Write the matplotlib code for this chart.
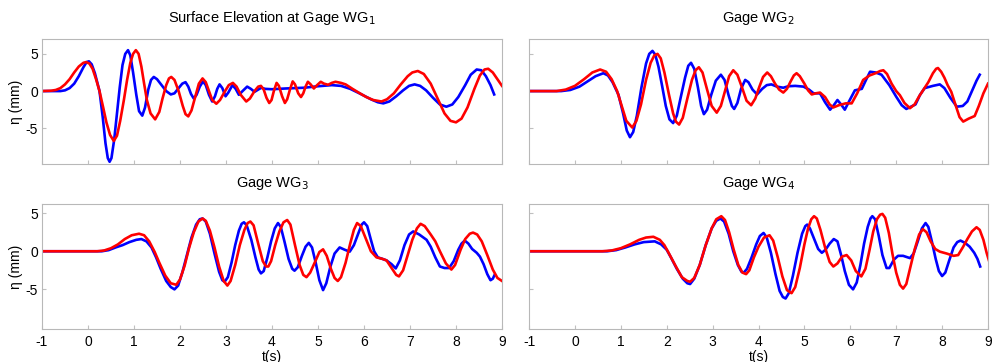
import matplotlib.pyplot as plt

# --- dati (t in s, eta in mm) ---
titles = ["Surface Elevation at Gage WG$_1$", "Gage WG$_2$", "Gage WG$_3$", "Gage WG$_4$"]
xticks = list(range(-1, 10))
yticks = [-5, 0, 5]

# WG1
t_b1 = [-1, -0.6, -0.5, -0.4, -0.3, -0.2, -0.1, -0.03, 0.02, 0.08, 0.15, 0.25, 0.32, 0.38, 0.43, 0.47,
        0.51, 0.57, 0.63, 0.69, 0.75, 0.81, 0.87, 0.92, 0.98, 1.05, 1.11, 1.18, 1.24, 1.31, 1.37, 1.43,
        1.5, 1.6, 1.7, 1.8, 1.88, 1.97, 2.05, 2.12, 2.18, 2.24, 2.30, 2.36, 2.43, 2.50, 2.56, 2.63,
        2.70, 2.76, 2.81, 2.86, 2.92, 2.99, 3.05, 3.14, 3.21, 3.28, 3.36, 3.46, 3.54, 3.62, 3.7, 3.77,
        3.85, 4.0, 4.3, 4.7, 5.0, 5.3, 5.5, 5.7, 5.9, 6.15, 6.3, 6.42, 6.55, 6.7, 6.85, 6.98, 7.1,
        7.22, 7.35, 7.5, 7.65, 7.79, 7.92, 8.05, 8.2, 8.32, 8.45, 8.55, 8.65, 8.75, 8.83]
e_b1 = [0, 0, 0.1, 0.4, 1.0, 2.0, 3.2, 3.9, 4.0, 3.6, 2.4, 0, -3.5, -7.0, -9.0, -9.5,
        -9.0, -6.5, -3.0, 0.5, 3.5, 5.0, 5.5, 4.8, 2.5, -0.5, -2.7, -3.3, -2.2, 0.2, 1.5, 1.9,
        1.6, 0.8, 0.0, -0.45, -0.3, 0.4, 1.0, 1.2, 0.6, -0.4, -1.0, -0.5, 0.6, 1.3, 0.8, -0.5,
        -1.4, -0.7, 0.3, 0.9, 0.4, -0.7, -0.2, 0.8, 0.3, -0.5, 0.0, 0.6, 0.3, -0.1, 0.2, 0.45,
        0.3, 0.25, 0.35, 0.45, 0.65, 0.8, 0.7, 0.3, -0.3, -1.1, -1.5, -1.65, -1.4, -0.7, 0.1, 0.7, 0.9,
        0.7, 0.1, -0.9, -1.8, -2.1, -1.8, -0.8, 0.8, 2.2, 2.9, 2.8, 2.0, 0.8, -0.45]
t_r1 = [-1, -0.8, -0.7, -0.6, -0.5, -0.4, -0.3, -0.2, -0.1, -0.04, 0.03, 0.1, 0.18, 0.25, 0.33, 0.4,
        0.48, 0.56, 0.63, 0.7, 0.78, 0.85, 0.92, 0.98, 1.04, 1.1, 1.16, 1.22, 1.28, 1.36, 1.46, 1.55,
        1.62, 1.7, 1.76, 1.81, 1.88, 1.97, 2.06, 2.12, 2.18, 2.25, 2.33, 2.41, 2.49, 2.56, 2.63, 2.7,
        2.79, 2.87, 2.97, 3.06, 3.15, 3.23, 3.32, 3.44, 3.52, 3.62, 3.7, 3.76, 3.82, 3.88, 3.94, 3.99,
        4.04, 4.10, 4.15, 4.22, 4.28, 4.33, 4.39, 4.45, 4.5, 4.57, 4.63, 4.68, 4.73, 4.78, 4.84, 4.91,
        4.98, 5.06, 5.13, 5.22, 5.3, 5.38, 5.5, 5.6, 5.75, 5.91, 6.05, 6.2, 6.38, 6.5, 6.65, 6.8,
        6.95, 7.05, 7.17, 7.3, 7.45, 7.6, 7.75, 7.88, 8.0, 8.12, 8.25, 8.4, 8.52, 8.62, 8.7, 8.8,
        8.9, 9.0]
e_r1 = [0, 0.05, 0.15, 0.4, 0.9, 1.6, 2.5, 3.3, 3.8, 3.9, 3.7, 3.0, 1.5, 0, -2.2, -4.2,
        -5.9, -6.7, -6.0, -4.0, -1.2, 1.5, 3.8, 5.0, 5.5, 5.0, 3.3, 1.0, -1.2, -3.0, -3.8, -2.8,
        -1.0, 0.8, 1.7, 1.9, 1.5, 0.0, -2.0, -3.1, -3.4, -2.6, -0.8, 1.0, 1.7, 1.2, 0.0, -1.2,
        -1.7, -1.2, -0.1, 0.8, 1.1, 0.6, -0.5, -1.4, -1.0, 0.0, 0.6, 0.7, 0.2, -0.9, -1.6, -1.2,
        0.0, 1.1, 0.7, -0.7, -1.6, -1.1, 0.2, 1.3, 0.9, -0.3, -0.8, -0.3, 0.6, 1.25, 0.9, 0.35,
        0.8, 1.25, 1.0, 0.85, 1.1, 1.25, 1.1, 0.9, 0.3, -0.3, -0.8, -1.2, -1.4, -1.1, -0.3, 0.9,
        2.0, 2.5, 2.7, 2.3, 1.0, -1.0, -3.0, -4.0, -4.2, -3.7, -2.2, 0.3, 2.1, 2.9, 3.0, 2.5,
        1.6, 0.7]

# WG2
t_b2 = [-1, -0.3, -0.1, 0.1, 0.3, 0.45, 0.62, 0.72, 0.82, 0.95, 1.05, 1.13, 1.20, 1.27, 1.35, 1.45,
        1.55, 1.62, 1.69, 1.75, 1.82, 1.9, 1.98, 2.06, 2.14, 2.22, 2.3, 2.4, 2.47, 2.53, 2.6, 2.68,
        2.75, 2.81, 2.88, 2.97, 3.07, 3.18, 3.26, 3.35, 3.42, 3.47, 3.54, 3.62, 3.71, 3.78, 3.87, 3.97,
        4.08, 4.18, 4.28, 4.4, 4.54, 4.65, 4.8, 4.98, 5.1, 5.2, 5.34, 5.45, 5.56, 5.64, 5.72, 5.8,
        5.88, 5.98, 6.1, 6.25, 6.35, 6.43, 6.55, 6.68, 6.85, 7.0, 7.12, 7.22, 7.32, 7.42, 7.52, 7.62,
        7.8, 7.95, 8.05, 8.18, 8.32, 8.45, 8.55, 8.65, 8.75, 8.82]
e_b2 = [0, 0, 0.15, 0.6, 1.4, 2.0, 2.4, 2.1, 1.2, -0.5, -3.0, -5.3, -6.2, -5.5, -3.3, 0.5,
        3.7, 5.0, 5.4, 4.9, 3.3, 0.7, -2.0, -3.8, -4.3, -3.3, -1.0, 1.8, 3.4, 3.8, 3.0, 0.5,
        -2.0, -3.1, -2.5, -0.5, 1.4, 2.2, 1.5, -0.6, -2.0, -2.4, -1.6, 0.3, 1.5, 1.2, 0.2, -0.45,
        0.3, 0.8, 0.9, 0.6, 0.45, 0.65, 0.7, 0.6, 0.2, -0.3, -0.3, -1.5, -2.5, -1.9, -1.2, -1.8,
        -2.5, -1.3, 0.1, 0.3, 1.6, 2.6, 2.5, 2.2, 0.8, -0.75, -1.9, -2.4, -2.1, -1.8, -0.5, 0.4,
        0.7, 0.9, 0.4, -0.9, -2.1, -2.0, -1.4, 0.0, 1.4, 2.2]
t_r2 = [-1, -0.4, -0.2, 0.0, 0.2, 0.38, 0.55, 0.68, 0.8, 0.92, 1.02, 1.12, 1.25, 1.34, 1.44, 1.55,
        1.65, 1.73, 1.80, 1.87, 1.95, 2.05, 2.14, 2.2, 2.27, 2.35, 2.45, 2.55, 2.63, 2.70, 2.78, 2.88,
        2.98, 3.09, 3.18, 3.27, 3.36, 3.45, 3.54, 3.64, 3.74, 3.84, 3.93, 4.02, 4.1, 4.19, 4.27, 4.36,
        4.45, 4.54, 4.62, 4.7, 4.77, 4.83, 4.9, 5.0, 5.08, 5.16, 5.25, 5.34, 5.45, 5.55, 5.63, 5.75,
        5.9, 6.03, 6.15, 6.28, 6.42, 6.55, 6.65, 6.72, 6.8, 6.9, 7.0, 7.08, 7.18, 7.30, 7.4, 7.5,
        7.59, 7.7, 7.8, 7.87, 7.91, 7.98, 8.05, 8.12, 8.2, 8.3, 8.38, 8.46, 8.58, 8.71, 8.8, 8.9,
        9.0]
e_r2 = [0, 0, 0.2, 0.7, 1.6, 2.5, 2.9, 2.6, 1.6, 0.0, -2.0, -4.0, -4.9, -4.0, -1.8, 1.5,
        3.8, 4.8, 5.0, 4.4, 2.5, -0.5, -3.0, -4.1, -4.5, -3.6, -1.0, 1.5, 2.8, 3.2, 2.5, 0.2,
        -2.0, -2.9, -2.0, 0.0, 2.0, 2.8, 2.2, 0.5, -1.3, -1.9, -1.0, 0.6, 1.9, 2.5, 2.0, 1.0,
        0.2, -0.2, 0.3, 1.3, 2.1, 2.4, 2.0, 1.0, 0.1, -0.45, -0.3, -0.2, -0.8, -1.8, -2.2, -1.9,
        -1.65, -1.65, -0.3, 1.5, 2.1, 2.4, 2.7, 2.8, 2.3, 1.0, 0.0, -0.55, -1.6, -2.3, -1.8, -0.7,
        0.15, 1.2, 2.4, 3.0, 3.1, 2.6, 1.8, 0.8, -0.1, -2.0, -3.5, -4.1, -3.7, -3.35, -2.0, -0.3,
        1.0]

# WG3
t_b3 = [-1, 0.3, 0.45, 0.6, 0.75, 0.9, 1.05, 1.16, 1.27, 1.38, 1.48, 1.58, 1.7, 1.8, 1.88, 1.96,
        2.05, 2.15, 2.25, 2.35, 2.43, 2.49, 2.56, 2.65, 2.75, 2.85, 2.92, 2.97, 3.04, 3.12, 3.2, 3.28,
        3.34, 3.39, 3.45, 3.55, 3.64, 3.71, 3.76, 3.82, 3.9, 3.98, 4.06, 4.13, 4.19, 4.27, 4.36, 4.44,
        4.49, 4.56, 4.65, 4.73, 4.80, 4.87, 4.95, 5.03, 5.11, 5.18, 5.27, 5.36, 5.47, 5.58, 5.69, 5.78,
        5.88, 5.95, 6.0, 6.07, 6.15, 6.22, 6.3, 6.4, 6.49, 6.6, 6.69, 6.78, 6.88, 6.98, 7.07, 7.2,
        7.36, 7.45, 7.55, 7.65, 7.75, 7.85, 7.95, 8.05, 8.12, 8.19, 8.27, 8.35, 8.45, 8.52, 8.6, 8.68,
        8.75, 8.8, 8.84]
e_b3 = [0, 0, 0.15, 0.5, 0.8, 1.2, 1.5, 1.6, 1.3, 0.5, -0.8, -2.3, -3.9, -4.7, -5.0, -4.5,
        -2.8, -0.5, 1.8, 3.5, 4.2, 4.3, 3.9, 2.3, -0.3, -2.7, -3.8, -4.0, -3.4, -1.5, 0.8, 2.7,
        3.6, 3.8, 3.4, 1.5, -0.8, -2.4, -2.9, -2.6, -0.8, 1.3, 3.0, 3.7, 3.2, 1.3, -1.0, -2.3,
        -2.55, -2.1, -0.6, 0.6, 1.1, 0.5, -1.5, -3.8, -5.1, -4.2, -2.0, -0.3, 0.5, 0.2, -0.05, 0.8,
        2.4, 3.5, 3.8, 3.3, 1.5, 0.0, -0.8, -1.0, -1.2, -1.7, -2.25, -1.2, 0.8, 2.2, 2.6, 2.2,
        1.5, 0.6, -0.8, -2.0, -2.2, -2.2, -1.3, 0.2, 1.0, 1.4, 1.0, 0.3, -0.2, -0.7, -1.7, -3.0,
        -3.8, -3.6, -3.1]
t_r3 = [-1, 0.2, 0.35, 0.5, 0.65, 0.8, 0.95, 1.11, 1.22, 1.33, 1.45, 1.55, 1.68, 1.8, 1.92, 2.0,
        2.1, 2.2, 2.3, 2.4, 2.49, 2.56, 2.65, 2.75, 2.85, 2.95, 3.03, 3.1, 3.2, 3.3, 3.4, 3.47,
        3.53, 3.6, 3.7, 3.8, 3.87, 3.92, 3.98, 4.07, 4.16, 4.25, 4.33, 4.4, 4.5, 4.6, 4.68, 4.75,
        4.83, 4.95, 5.03, 5.11, 5.19, 5.28, 5.36, 5.43, 5.5, 5.6, 5.7, 5.78, 5.85, 5.93, 6.03, 6.15,
        6.27, 6.4, 6.49, 6.6, 6.7, 6.76, 6.85, 6.95, 7.05, 7.15, 7.23, 7.32, 7.45, 7.55, 7.65, 7.78,
        7.9, 7.98, 8.1, 8.2, 8.3, 8.37, 8.46, 8.56, 8.68, 8.8, 8.9, 9.0]
e_r3 = [0, 0, 0.1, 0.4, 0.9, 1.6, 2.1, 2.3, 2.1, 1.3, -0.1, -1.5, -3.2, -4.2, -4.4, -3.7,
        -1.9, 0.5, 2.5, 3.9, 4.3, 4.0, 2.7, 0.5, -2.0, -3.9, -4.5, -3.9, -1.8, 0.8, 2.8, 3.7,
        3.9, 3.4, 1.0, -1.3, -2.0, -2.0, -1.3, 0.8, 2.6, 3.8, 4.1, 3.5, 0.8, -1.8, -3.1, -3.4,
        -2.8, -1.2, -0.1, 0.25, -0.6, -2.3, -3.5, -3.9, -3.4, -1.5, 1.0, 2.8, 3.7, 3.3, 1.8, 0.0,
        -0.8, -1.0, -1.2, -2.2, -3.1, -3.3, -2.5, -0.5, 1.5, 3.0, 3.6, 3.3, 2.2, 1.3, 0.0, -1.6,
        -2.4, -1.8, 0.2, 1.6, 2.3, 2.45, 2.2, 1.3, -0.5, -2.4, -3.5, -3.9]

# WG4
t_b4 = [-1, 0.7, 0.9, 1.1, 1.3, 1.5, 1.74, 1.88, 2.0, 2.1, 2.22, 2.35, 2.45, 2.51, 2.6, 2.72,
        2.85, 2.98, 3.08, 3.17, 3.25, 3.35, 3.45, 3.55, 3.63, 3.68, 3.75, 3.85, 3.95, 4.03, 4.11, 4.18,
        4.27, 4.37, 4.46, 4.53, 4.59, 4.66, 4.75, 4.85, 4.95, 5.02, 5.06, 5.12, 5.2, 5.3, 5.38, 5.46,
        5.55, 5.64, 5.72, 5.8, 5.88, 5.97, 6.06, 6.14, 6.22, 6.3, 6.38, 6.44, 6.48, 6.54, 6.62, 6.7,
        6.79, 6.85, 6.95, 7.04, 7.15, 7.3, 7.38, 7.47, 7.56, 7.64, 7.7, 7.78, 7.86, 7.93, 8.0, 8.07,
        8.15, 8.25, 8.33, 8.4, 8.5, 8.6, 8.7, 8.77, 8.83]
e_b4 = [0, 0, 0.15, 0.5, 0.9, 1.2, 1.3, 0.9, 0.2, -0.9, -2.3, -3.6, -4.2, -4.3, -3.6, -1.8,
        0.8, 3.0, 4.0, 4.3, 3.9, 2.3, 0.0, -1.8, -2.7, -2.8, -2.3, -0.8, 0.9, 2.0, 2.4, 1.8,
        -0.2, -3.0, -5.2, -6.0, -6.2, -5.5, -3.2, -0.2, 2.3, 3.3, 3.5, 3.0, 1.8, 0.3, -0.2, 0.2,
        1.0, 1.6, 1.3, -0.5, -2.6, -4.4, -5.0, -4.1, -1.8, 1.0, 3.2, 4.3, 4.6, 4.2, 2.0, -0.5,
        -2.2, -2.2, -1.1, -0.6, -0.6, -0.9, -0.3, 1.3, 3.0, 3.7, 3.2, 1.2, -1.0, -2.6, -3.25, -2.8,
        -1.3, 0.5, 1.2, 1.4, 1.1, 0.6, -0.2, -1.0, -2.0]
t_r4 = [-1, 0.6, 0.8, 1.0, 1.2, 1.4, 1.55, 1.71, 1.85, 1.95, 2.05, 2.2, 2.33, 2.45, 2.51, 2.6,
        2.72, 2.85, 2.98, 3.08, 3.19, 3.27, 3.36, 3.46, 3.56, 3.65, 3.73, 3.8, 3.9, 4.0, 4.12, 4.24,
        4.32, 4.42, 4.52, 4.62, 4.72, 4.8, 4.9, 5.0, 5.08, 5.15, 5.21, 5.27, 5.35, 5.45, 5.55, 5.63,
        5.72, 5.82, 5.92, 6.02, 6.12, 6.24, 6.33, 6.42, 6.5, 6.58, 6.65, 6.70, 6.76, 6.84, 6.92, 7.0,
        7.08, 7.15, 7.22, 7.3, 7.4, 7.5, 7.58, 7.66, 7.75, 7.85, 7.95, 8.1, 8.25, 8.35, 8.45, 8.55,
        8.65, 8.75, 8.82, 8.9, 8.97, 9.03]
e_r4 = [0, 0, 0.1, 0.4, 0.9, 1.5, 1.8, 1.9, 1.5, 0.8, -0.3, -2.0, -3.4, -3.9, -4.0, -3.5,
        -1.8, 0.8, 3.0, 4.2, 4.6, 4.1, 2.5, 0.2, -1.8, -2.8, -3.0, -2.5, -0.8, 0.6, 1.8, 2.1,
        1.4, -0.8, -3.3, -5.1, -5.5, -4.7, -2.2, 0.9, 3.0, 4.2, 4.6, 4.3, 2.8, 0.5, -1.4, -2.0,
        -1.6, -0.7, -0.5, -1.2, -2.6, -3.3, -2.3, 0.2, 2.6, 4.2, 4.8, 4.9, 4.4, 2.4, -0.4, -2.8,
        -4.4, -4.9, -4.3, -2.3, 0.2, 2.2, 2.9, 2.5, 1.3, 0.3, -0.05, -0.3, -0.6, -0.5, 0.5, 1.6,
        2.6, 3.15, 2.8, 1.5, -0.2, -1.4]

blue_series = [(t_b1, e_b1), (t_b2, e_b2), (t_b3, e_b3), (t_b4, e_b4)]
red_series = [(t_r1, e_r1), (t_r2, e_r2), (t_r3, e_r3), (t_r4, e_r4)]

plt.rcParams['font.family'] = ['Liberation Sans', 'DejaVu Sans']
plt.rcParams['axes.unicode_minus'] = False

fig = plt.figure(figsize=(9.92, 3.62), dpi=100)
W, H = 992, 362
# posizioni in pixel: (sinistra, alto, destra, basso)
boxes = [(42, 39, 502, 164), (529, 39, 988, 164), (42, 204, 502, 329), (529, 204, 988, 329)]
ylims = [(-9.8, 7.0), (-9.8, 7.0), (-10.2, 6.2), (-10.2, 6.2)]

for i, (l, t, r, b) in enumerate(boxes):
    ax = fig.add_axes([l / W, 1 - b / H, (r - l) / W, (b - t) / H])
    tb, eb = blue_series[i]
    tr, er = red_series[i]
    ax.plot(tb, eb, color='#0000ff', lw=1.9, solid_joinstyle='round')
    ax.plot(tr, er, color='#ff0000', lw=1.9, solid_joinstyle='round')
    ax.set_xlim(-1, 9)
    ax.set_ylim(*ylims[i])
    ax.set_xticks(xticks)
    ax.set_yticks(yticks)
    ax.tick_params(direction='in', length=3, color='#c0c0c0', labelsize=10)
    ax.tick_params(axis='x', pad=4)
    ax.tick_params(axis='y', pad=3)
    for s in ax.spines.values():
        s.set_color('#b8b8b8')
    ax.set_title(titles[i], fontsize=10.5, pad=12)
    if i < 2:
        ax.set_xticklabels([])
    else:
        ax.set_xlabel("t(s)", fontsize=10, labelpad=1)
    if i % 2 == 1:
        ax.set_yticklabels([])
    else:
        ax.set_ylabel("η (mm)", fontsize=10, labelpad=2)

fig.savefig("out.png", dpi=100)
